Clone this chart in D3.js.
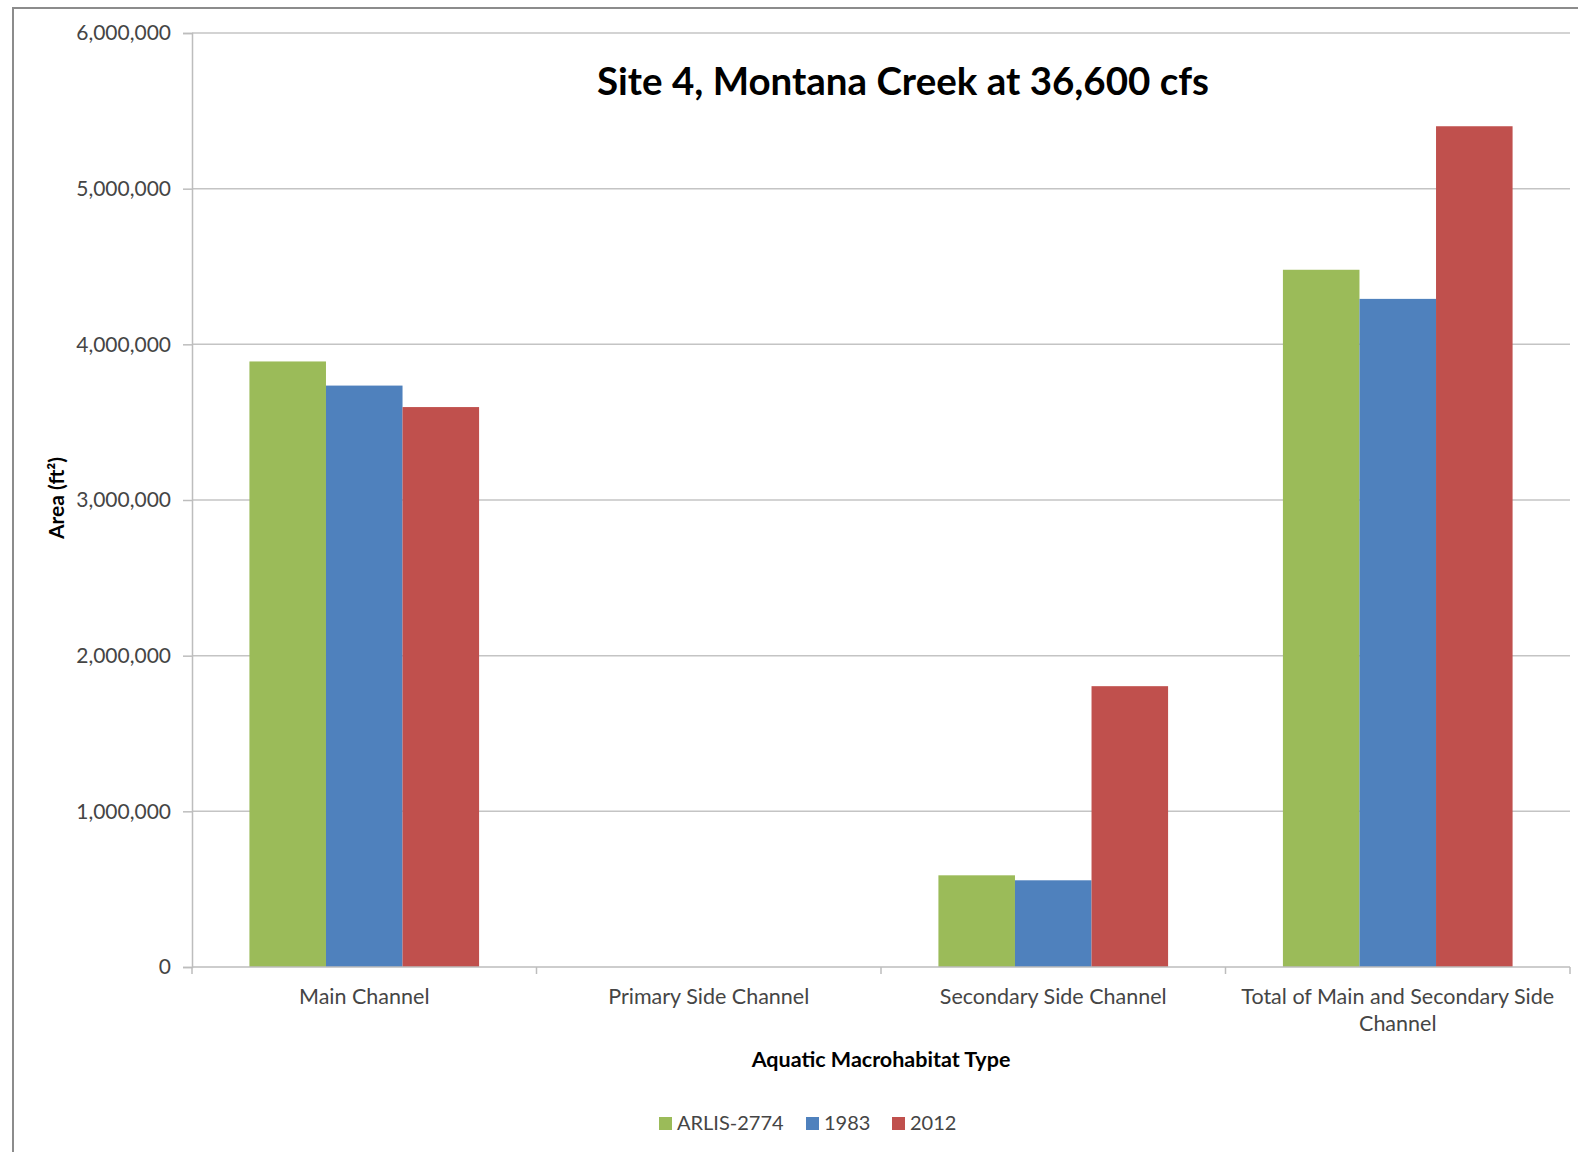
<!DOCTYPE html>
<html>
<head>
<meta charset="utf-8">
<script src="https://cdn.jsdelivr.net/npm/d3@7/dist/d3.min.js"></script>
<style>
  html, body { margin: 0; padding: 0; background: #fff; }
  svg { display: block; }
  text { font-family: Lato, "Open Sans", sans-serif; }
</style>
</head>
<body>
<svg id="chart" width="1578" height="1152"></svg>
<script>
// Aquatic macrohabitat area, Site 4 (Montana Creek) at 36,600 cfs
const categories = [
  "Main Channel",
  "Primary Side Channel",
  "Secondary Side Channel",
  "Total of Main and Secondary Side Channel"
];
const seriesNames = ["ARLIS-2774", "1983", "2012"];
const arlis2774 = [3890000, 0, 589000, 4479000];
const y1983     = [3735000, 0, 557000, 4292000];
const y2012     = [3597000, 0, 1804000, 5401000];
const yTicks = [0, 1000000, 2000000, 3000000, 4000000, 5000000, 6000000];
const colors = ["#9BBB59", "#4F81BD", "#C0504D"];

const seriesValues = [arlis2774, y1983, y2012];

const svg = d3.select("#chart");
const W = 1578, H = 1152;
const plot = { left: 192, right: 1570, top: 33, bottom: 967 };

// chart frame (left and top edges visible)
svg.append("path")
  .attr("d", `M13,${H} L13,8 L${W},8`)
  .attr("fill", "none")
  .attr("stroke", "#8c8c8c")
  .attr("stroke-width", 2);

const x0 = d3.scaleBand()
  .domain(categories)
  .range([plot.left, plot.right])
  .paddingInner(0)
  .paddingOuter(0);

// each category holds three bars with a gap of 1.5 bar widths
const barW = x0.bandwidth() / 4.5;
const x1 = d3.scaleBand()
  .domain(seriesNames)
  .range([barW * 0.75, barW * 3.75]);

const y = d3.scaleLinear()
  .domain([0, 6000000])
  .range([plot.bottom, plot.top]);

// horizontal gridlines
svg.append("g")
  .selectAll("line")
  .data(yTicks.filter(d => d > 0))
  .join("line")
  .attr("x1", plot.left)
  .attr("x2", plot.right)
  .attr("y1", d => y(d))
  .attr("y2", d => y(d))
  .attr("stroke", "#c4c4c4")
  .attr("stroke-width", 1.5);

// bars
const rows = categories.map((c, i) => ({
  category: c,
  values: seriesNames.map((s, k) => ({ series: s, k, value: seriesValues[k][i] }))
}));

svg.append("g")
  .selectAll("g")
  .data(rows)
  .join("g")
  .attr("transform", d => `translate(${x0(d.category)},0)`)
  .selectAll("rect")
  .data(d => d.values.filter(v => v.value > 0))
  .join("rect")
  .attr("x", d => x1(d.series))
  .attr("width", x1.bandwidth())
  .attr("y", d => y(d.value))
  .attr("height", d => y(0) - y(d.value))
  .attr("fill", d => colors[d.k]);

// y axis
const yAxis = d3.axisLeft(y)
  .tickValues(yTicks)
  .tickSize(9)
  .tickPadding(12)
  .tickFormat(d3.format(","));

const gy = svg.append("g")
  .attr("transform", `translate(${plot.left},0)`)
  .call(yAxis);
gy.select(".domain").attr("stroke", "#bdbdbd").attr("stroke-width", 1.5);
gy.selectAll(".tick line").attr("stroke", "#bdbdbd").attr("stroke-width", 1.5);
gy.selectAll(".tick text")
  .attr("fill", "#454545")
  .style("font-family", "Lato, sans-serif")
  .style("font-size", "21px");

// x axis with ticks at category boundaries
const gx = svg.append("g")
  .attr("transform", `translate(0,${plot.bottom})`);
gx.append("line")
  .attr("x1", plot.left).attr("x2", plot.right)
  .attr("y1", 0).attr("y2", 0)
  .attr("stroke", "#bdbdbd").attr("stroke-width", 1.5);
const bounds = categories.map(c => x0(c)).concat([plot.right]);
gx.selectAll("line.tick")
  .data(bounds)
  .join("line")
  .attr("class", "tick")
  .attr("x1", d => d).attr("x2", d => d)
  .attr("y1", 0).attr("y2", 7)
  .attr("stroke", "#bdbdbd").attr("stroke-width", 1.5);

// category labels, wrapped where the band is too narrow
const xLabels = gx.selectAll("text.cat")
  .data(categories)
  .join("text")
  .attr("class", "cat")
  .attr("x", d => x0(d) + x0.bandwidth() / 2)
  .attr("y", 37)
  .attr("text-anchor", "middle")
  .attr("fill", "#454545")
  .style("font-size", "21.5px");

xLabels.each(function(d) {
  const t = d3.select(this);
  const maxW = x0.bandwidth() - 10;
  const words = d.split(" ");
  let line = [];
  let tspan = t.append("tspan").attr("x", x0(d) + x0.bandwidth() / 2).attr("dy", 0);
  words.forEach(w => {
    line.push(w);
    tspan.text(line.join(" "));
    if (tspan.node().getComputedTextLength() > maxW && line.length > 1) {
      line.pop();
      tspan.text(line.join(" "));
      line = [w];
      tspan = t.append("tspan")
        .attr("x", x0(d) + x0.bandwidth() / 2)
        .attr("dy", 27)
        .text(w);
    }
  });
});

// axis titles
svg.append("text")
  .attr("x", (plot.left + plot.right) / 2)
  .attr("y", 1067)
  .attr("text-anchor", "middle")
  .attr("fill", "#000")
  .style("font-size", "21.5px")
  .style("font-weight", "bold")
  .text("Aquatic Macrohabitat Type");

svg.append("text")
  .attr("transform", "translate(64,498) rotate(-90)")
  .attr("text-anchor", "middle")
  .attr("fill", "#000")
  .style("font-size", "21px")
  .style("font-weight", "bold")
  .text("Area (ft²)");

// chart title
svg.append("text")
  .attr("x", 903)
  .attr("y", 95)
  .attr("text-anchor", "middle")
  .attr("fill", "#000")
  .style("font-size", "38.5px")
  .style("font-weight", "bold")
  .text("Site 4, Montana Creek at 36,600 cfs");

// legend
const legend = svg.append("g").attr("transform", "translate(0,1123)");
const legendX = [659, 806, 892];
const items = legend.selectAll("g")
  .data(seriesNames)
  .join("g")
  .attr("transform", (d, i) => `translate(${legendX[i]},0)`);
items.append("rect")
  .attr("x", 0).attr("y", -6)
  .attr("width", 13).attr("height", 13)
  .attr("fill", (d, i) => colors[i]);
items.append("text")
  .attr("x", 18)
  .attr("y", 7)
  .attr("fill", "#454545")
  .style("font-size", "20px")
  .text(d => d);
</script>
</body>
</html>
